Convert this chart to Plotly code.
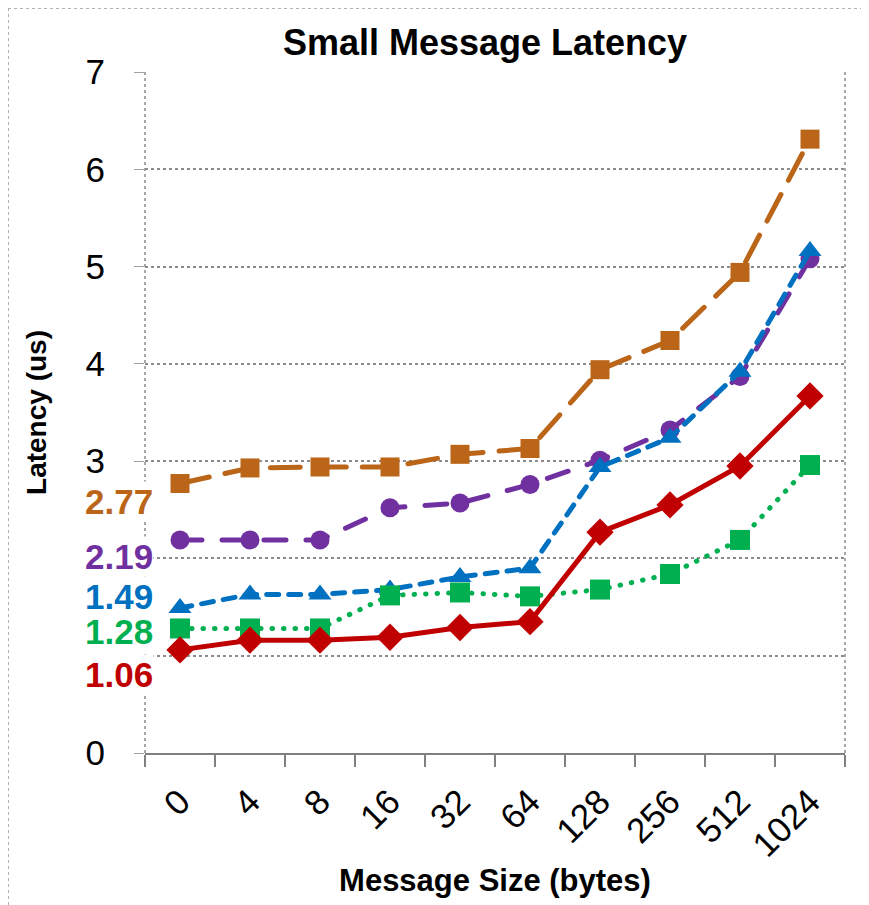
import plotly.graph_objects as go

# ---- data ----
sizes = ["0", "4", "8", "16", "32", "64", "128", "256", "512", "1024"]
series_orange = [2.77, 2.93, 2.94, 2.94, 3.07, 3.13, 3.94, 4.24, 4.94, 6.31]
series_purple = [2.19, 2.19, 2.19, 2.52, 2.57, 2.76, 3.01, 3.32, 3.87, 5.08]
series_blue = [1.49, 1.63, 1.63, 1.68, 1.81, 1.90, 2.94, 3.24, 3.92, 5.16]
series_green = [1.28, 1.28, 1.28, 1.62, 1.65, 1.61, 1.68, 1.84, 2.19, 2.96]
series_red = [1.06, 1.16, 1.16, 1.19, 1.29, 1.35, 2.27, 2.55, 2.95, 3.67]
y_ticks = [0, 1, 2, 3, 4, 5, 6, 7]
y_ticktext = ["0", "", "", "3", "4", "5", "6", "7"]

FONT = "Arial, Liberation Sans, sans-serif"

styles = [
    # values, color, dash, marker symbol, marker size, label yshift
    (series_orange, "#BA6518", "30px,16px", "square", 19, -18),
    (series_purple, "#7030A0", "22px,20px", "circle", 19, -17),
    (series_blue, "#0070C0", "12px,10px", "triangle-up", 20, 12),
    (series_green, "#00B050", "0.5px,11px", "square", 20, -3),
    (series_red, "#C00000", "solid", "diamond", 21, -25),
]

W, H = 861, 897          # page has an 8px body margin
ML, MR, MT, MB = 137, 24, 64, 152
PW, PH = W - ML - MR, H - MT - MB

fig = go.Figure()
for i, (vals, color, dash, sym, msize, _) in enumerate(styles):
    fig.add_trace(go.Scatter(
        x=sizes, y=vals, mode="lines+markers", name=f"Series {i+1}",
        line=dict(color=color, width=5, dash=dash),
        marker=dict(symbol=sym, size=msize, color=color, line=dict(width=0)),
        showlegend=False,
    ))

# value labels of the first point at the left
for vals, color, dash, sym, msize, yshift in styles:
    fig.add_annotation(
        xref="paper", yref="y", x=8.5 / PW, y=vals[0], yshift=yshift,
        xanchor="right", yanchor="middle", text=f"<b>{vals[0]:.2f}</b>",
        showarrow=False, bgcolor="white", borderpad=0,
        font=dict(family=FONT, size=35, color=color),
    )

# dotted y axis line (left) and right plot edge
for xp in (0, 1):
    fig.add_shape(type="line", xref="paper", yref="y", x0=xp, x1=xp, y0=0, y1=7,
                  line=dict(color="#8c8c8c", width=1.5, dash="dot"), layer="below")
# outer dotted chart border (top & left visible)
bx = -ML / PW
by = 1 + MT / PH
fig.add_shape(type="line", xref="paper", yref="paper",
              x0=bx, x1=1 + MR / PW, y0=by, y1=by,
              line=dict(color="#b0b0b0", width=2, dash="dot"))
fig.add_shape(type="line", xref="paper", yref="paper",
              x0=bx, x1=bx, y0=-MB / PH, y1=by,
              line=dict(color="#b0b0b0", width=2, dash="dot"))

fig.update_layout(
    width=W, height=H,
    margin=dict(l=ML, r=MR, t=MT, b=MB, autoexpand=False),
    paper_bgcolor="white", plot_bgcolor="white",
    font=dict(family=FONT, color="black"),
    title=dict(text="<b>Small Message Latency</b>", x=477 / W, xanchor="center",
               y=1 - 34 / H, yanchor="middle", xref="container", yref="container",
               font=dict(family=FONT, size=36, color="black")),
    xaxis=dict(
        type="category", tickson="boundaries", range=[-0.5, 9.5],
        showgrid=False, showline=True, linecolor="#808080", linewidth=2,
        ticks="outside", ticklen=12, tickwidth=1.5, tickcolor="#808080",
        tickangle=-45, tickfont=dict(family=FONT, size=35, color="black"),
        ticklabelstandoff=12,
        title=dict(text="<b>Message Size (bytes)</b>", standoff=6,
                   font=dict(family=FONT, size=31, color="black")),
        zeroline=False,
    ),
    yaxis=dict(
        range=[0, 7], tickvals=y_ticks, ticktext=y_ticktext,
        showgrid=True, gridcolor="#8c8c8c", gridwidth=1.5, griddash="dot",
        showline=False, zeroline=False,
        ticks="outside", ticklen=10, tickwidth=1, tickcolor="#a0a0a0",
        tickfont=dict(family=FONT, size=35, color="black"),
        ticklabelstandoff=22,
        title=dict(text="<b>Latency (us)</b>", standoff=30,
                   font=dict(family=FONT, size=28, color="black")),
    ),
)

post = """
var gd = document.getElementsByClassName('plotly-graph-div')[0];
function rc(){ gd.querySelectorAll('.scatterlayer .js-line').forEach(function(p){p.style.strokeLinecap='round';}); }
rc(); gd.on('plotly_afterplot', rc);
"""
fig.write_html("out.html", post_script=post)
